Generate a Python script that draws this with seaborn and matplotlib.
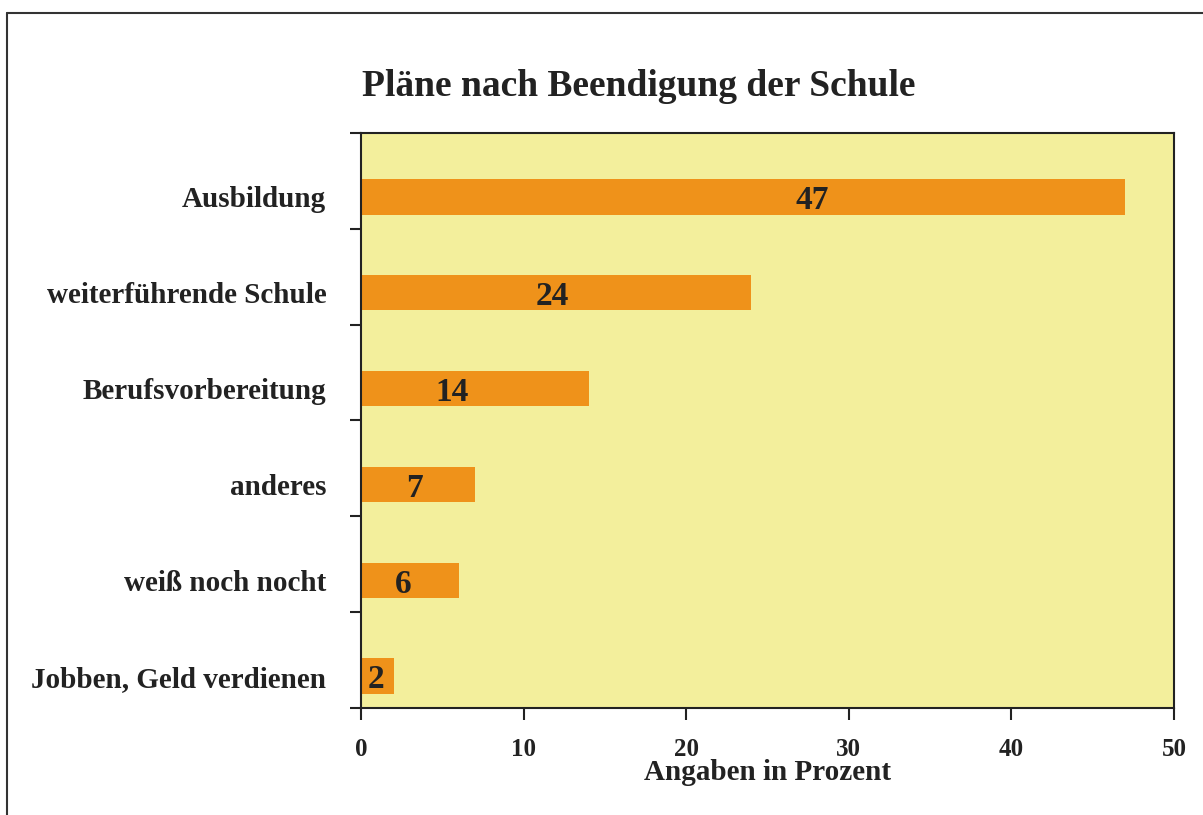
import matplotlib
matplotlib.use("Agg")
import matplotlib.pyplot as plt
from matplotlib.lines import Line2D
import seaborn as sns
import pandas as pd
import numpy as np

categories = ["Ausbildung", "weiterführende Schule", "Berufsvorbereitung",
              "anderes", "weiß noch nocht", "Jobben, Geld verdienen"]
values = [47, 24, 14, 7, 6, 2]
x_ticks = [0, 10, 20, 30, 40, 50]
title = "Pläne nach Beendigung der Schule"
x_label = "Angaben in Prozent"

# layout: horizontal position of value labels as a fraction of bar length
label_frac = [0.59, 0.49, 0.40, 0.47, 0.43, 0.45]

BG = "#F3EF9C"
BAR = "#EF921A"
TXT = "#222222"

sns.set_theme(style="white")
plt.rcParams["font.family"] = ["Liberation Serif", "DejaVu Serif"]
plt.rcParams["font.weight"] = "bold"

df = pd.DataFrame({"cat": categories, "val": values})

fig = plt.figure(figsize=(12.03, 8.15), dpi=100)
fig.patch.set_facecolor("white")
ax = fig.add_axes([361/1203, 1-708/815, (1174-361)/1203, (708-133)/815])
ax.set_facecolor(BG)

sns.barplot(data=df, y="cat", x="val", orient="h", color=BAR, saturation=1,
            width=0.37, ax=ax, linewidth=0)

ax.set_xlim(0, 50)
ax.set_ylim(5.333, -0.667)
ax.set_xticks(x_ticks)
ax.set_xticklabels([str(t) for t in x_ticks], fontsize=18, fontweight="bold", color=TXT)
ax.set_yticks(range(len(categories)))
ax.set_yticklabels(categories, fontsize=21, fontweight="bold", color=TXT)
ax.set_yticks(np.arange(-0.667, 5.4, 1.0), minor=True)
ax.tick_params(axis="y", which="major", length=0, pad=25)
ax.tick_params(axis="y", which="minor", length=8, width=1.5, color="#222222", direction="out", left=True)
ax.tick_params(axis="x", which="major", length=8.5, width=1.5, color="#222222", direction="out", bottom=True, pad=13)
ax.set_ylabel("")
ax.set_xlabel(x_label, fontsize=21, fontweight="bold", color=TXT)
ax.xaxis.set_label_coords(0.5, -(780-708)/575)
ax.xaxis.label.set_va("baseline")

for s in ax.spines.values():
    s.set_color("#222222")
    s.set_linewidth(1.5)
    s.set_visible(True)

for i, (v, f) in enumerate(zip(values, label_frac)):
    ax.text(v * f, i + 0.04, str(v), ha="center", va="center", fontsize=24,
            fontweight="bold", color=TXT)

fig.text(0.531, 1-96/815, title, ha="center", va="baseline", fontsize=27,
         fontweight="bold", color=TXT)

# outer frame (top and left edges visible)
fig.add_artist(Line2D([7/1203, 7/1203], [0, 1-13/815], transform=fig.transFigure,
                      color="#333333", linewidth=1.5))
fig.add_artist(Line2D([7/1203, 1], [1-13/815, 1-13/815], transform=fig.transFigure,
                      color="#333333", linewidth=1.5))

fig.savefig("out.png", dpi=100)
